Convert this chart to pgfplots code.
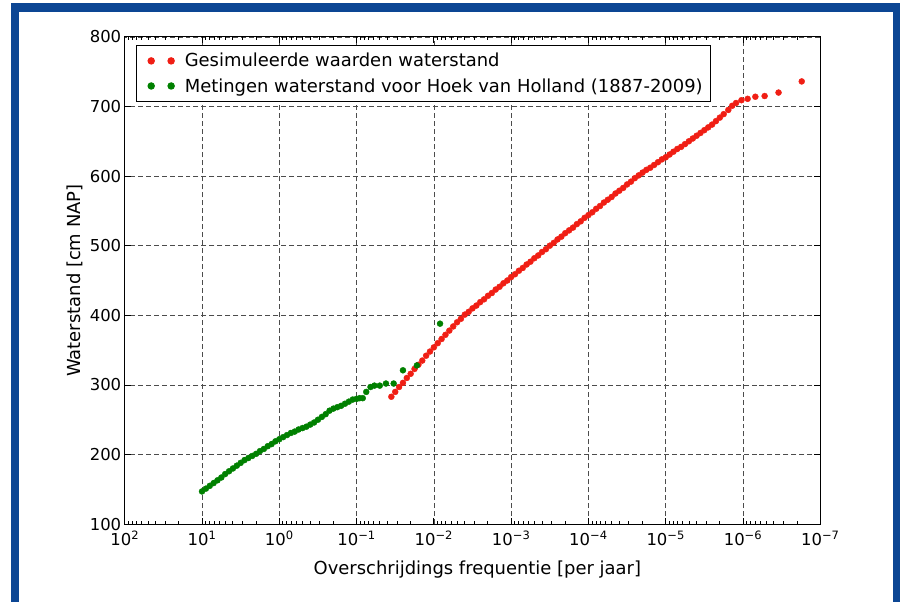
\documentclass[border=0pt]{standalone}
\usepackage{fontspec}
\setmainfont{DejaVu Sans}
\usepackage{pgfplots}
\pgfplotsset{compat=1.18}
\usepackage{pgfplotstable}

\definecolor{frameblue}{RGB}{12,70,148}
\definecolor{simred}{RGB}{240,30,20}
\definecolor{measgreen}{RGB}{0,128,0}
\newcommand\fs{\fontsize{18pt}{21pt}\selectfont}
\newcommand\ts{\fontsize{16.5pt}{19pt}\selectfont}

% lf = log10 of the exceedance frequency (per year), v = water level (cm NAP)
\pgfplotstableread{
lf v
1.00 147
0.95 151
0.90 155
0.85 159
0.80 163
0.75 167
0.70 172
0.65 176
0.60 180
0.55 184
0.50 188
0.45 192
0.40 195
0.35 198
0.30 201
0.25 205
0.20 208
0.15 212
0.10 215
0.05 219
0.00 222
-0.05 225
-0.10 228
-0.15 231
-0.20 233
-0.25 236
-0.30 238
-0.35 240
-0.40 243
-0.45 246
-0.50 250
-0.55 254
-0.60 258
-0.65 263
-0.70 266
-0.75 268
-0.80 270
-0.85 273
-0.90 276
-0.95 279
-1.00 280
-1.04 281
-1.08 281
-1.125 290
-1.18 297
-1.23 299
-1.30 299
-1.38 302
-1.48 302
-1.60 321
-1.78 328
-2.08 388
}\metingen

\pgfplotstableread{
lf v
-1.45 283
-1.50 290
-1.55 297
-1.60 303
-1.65 310
-1.70 316
-1.75 323
-1.80 329
-1.85 335
-1.90 342
-1.95 348
-2.00 354
-2.05 360
-2.10 366
-2.15 372
-2.20 378
-2.25 384
-2.30 390
-2.35 395
-2.40 401
-2.45 405
-2.50 410
-2.55 414
-2.60 419
-2.65 423
-2.70 428
-2.75 432
-2.80 437
-2.85 441
-2.90 446
-2.95 450
-3.00 455
-3.05 459
-3.10 464
-3.15 468
-3.20 473
-3.25 477
-3.30 482
-3.35 486
-3.40 491
-3.45 495
-3.50 500
-3.55 504
-3.60 509
-3.65 513
-3.70 518
-3.75 522
-3.80 526
-3.85 531
-3.90 535
-3.95 540
-4.00 544
-4.05 548
-4.10 553
-4.15 557
-4.20 562
-4.25 566
-4.30 570
-4.35 575
-4.40 579
-4.45 583
-4.50 588
-4.55 592
-4.60 597
-4.65 601
-4.70 605
-4.75 609
-4.80 612
-4.85 616
-4.90 620
-4.95 624
-5.00 627
-5.05 631
-5.10 635
-5.15 639
-5.20 642
-5.25 646
-5.30 650
-5.35 654
-5.40 658
-5.45 662
-5.50 666
-5.55 670
-5.60 674
-5.65 679
-5.70 684
-5.75 689
-5.81 695
-5.86 701
-5.91 705
-5.98 709
-6.06 711
-6.16 714
-6.28 715
-6.46 720
-6.76 736
}\gesimuleerd

\begin{document}
% minor ticks of the log axis: n + log10(k)
\def\minorticks{}
\foreach \n in {-7,...,1}{%
  \foreach \k in {0.30103,0.47712,0.60206,0.69897,0.77815,0.84510,0.90309,0.95424}{%
    \pgfmathsetmacro\t{\n+\k}%
    \xdef\minorticks{\minorticks\ifx\minorticks\empty\else,\fi\t}}}%
\begin{tikzpicture}
\useasboundingbox (0pt,0pt) rectangle (903pt,604pt);
\fill[frameblue] (8pt,0pt) rectangle (16pt,601pt);
\fill[frameblue] (8pt,592pt) rectangle (900pt,601pt);
\fill[frameblue] (893pt,0pt) rectangle (900pt,601pt);
\begin{axis}[
    at={(122pt,78pt)}, anchor=south west,
    scale only axis, width=698pt, height=489pt,
    xmin=-7, xmax=2, x dir=reverse,
    ymin=100, ymax=800,
    xtick={-7,-6,-5,-4,-3,-2,-1,0,1,2},
    xticklabels={10\textsuperscript{−7},10\textsuperscript{−6},10\textsuperscript{−5},10\textsuperscript{−4},10\textsuperscript{−3},10\textsuperscript{−2},10\textsuperscript{−1},10\textsuperscript{0},10\textsuperscript{1},10\textsuperscript{2}},
    minor xtick/.expanded=\minorticks,
    ytick={100,200,...,800},
    /pgf/number format/assume math mode=true,
    tick label style={font=\ts},
    xticklabel style={yshift=-3pt},
    label style={font=\fs},
    xlabel={Overschrijdings frequentie [per jaar]},
    ylabel={Waterstand [cm NAP]},
    xlabel style={at={(axis description cs:0.507,-0.094)}, anchor=center},
    ylabel style={at={(axis description cs:-0.072,0.5)}, anchor=center},
    axis line style={black, line width=1pt},
    tick style={black, line width=0.8pt},
    major tick length=6pt, minor tick length=3pt,
    grid=major,
    major grid style={black!70, dash pattern=on 5pt off 3pt, line width=0.6pt},
    legend cell align=left,
    legend style={at={(0.016,0.984)}, anchor=north west, draw=black,
        line width=1.4pt, font=\fs, row sep=6pt, inner sep=6pt},
    legend image code/.code={%
        \path (0pt,0pt) (39pt,0pt);
        \fill[#1] plot[only marks] coordinates {(8pt,0pt) (28pt,0pt)};},
]
\addplot[only marks, mark=*, mark size=3pt, color=simred, mark options={draw=none, fill=simred}]
    table[x=lf, y=v] {\gesimuleerd};
\addlegendentry{Gesimuleerde waarden waterstand}
\addplot[only marks, mark=*, mark size=3pt, color=measgreen, mark options={draw=none, fill=measgreen}]
    table[x=lf, y=v] {\metingen};
\addlegendentry{Metingen waterstand voor Hoek van Holland (1887-2009)}
\end{axis}
\end{tikzpicture}
\end{document}
